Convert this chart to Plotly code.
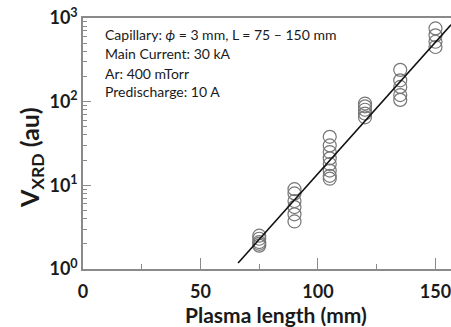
import plotly.graph_objects as go

# Measured XRD signal vs. capillary plasma length
length_mm = [75] * 5 + [90] * 6 + [105] * 8 + [120] * 5 + [135] * 5 + [150] * 4
v_xrd = [1.9, 2.0, 2.1, 2.3, 2.5,
         3.7, 4.5, 5.5, 6.5, 8.0, 9.0,
         12, 13, 15, 18, 21, 25, 30, 38,
         65, 72, 80, 88, 95,
         105, 120, 150, 180, 240,
         450, 520, 620, 750]

# Exponential fit line endpoints
fit_x = [66, 156.6]
fit_y = [1.18, 830]

x_ticks = [0, 50, 100, 150]
y_ticks = [1, 10, 100, 1000]
y_tick_text = ["10<sup>0</sup>", "10<sup>1</sup>", "10<sup>2</sup>", "10<sup>3</sup>"]

info_lines = [
    "Capillary: <i>ϕ</i> = 3 mm, L = 75 – 150 mm",
    "Main Current: 30 kA",
    "Ar: 400 mTorr",
    "Predischarge: 10 A",
]

FONT = "Lato, Carlito, sans-serif"
AXIS = "#8a8a8a"

fig = go.Figure()
fig.add_trace(go.Scatter(
    x=length_mm, y=v_xrd, mode="markers",
    marker=dict(symbol="circle-open", size=13, color="#777777", line=dict(width=1.2)),
    showlegend=False, cliponaxis=False,
))
fig.add_trace(go.Scatter(
    x=fit_x, y=fit_y, mode="lines",
    line=dict(color="#111111", width=1.6), showlegend=False,
))

fig.update_xaxes(
    range=[0, 156.6], tickvals=x_ticks, ticks="inside", ticklen=11, tickwidth=1.3,
    tickcolor=AXIS, showline=True, linecolor=AXIS, linewidth=1.5, mirror=True,
    showgrid=False, zeroline=False, ticklabelstandoff=6, ticklabeloverflow="allow",
    tickfont=dict(family=FONT, size=18, color="#1a1a1a", weight="bold"),
    minor=dict(tickvals=[25, 75, 125], ticks="inside", ticklen=5, tickcolor=AXIS, tickwidth=1.3),
)
fig.update_yaxes(
    type="log", range=[0, 3], tickvals=y_ticks, ticktext=y_tick_text,
    ticks="inside", ticklen=8, tickwidth=1.3, tickcolor=AXIS,
    showline=True, linecolor=AXIS, linewidth=1.5, showgrid=False, zeroline=False,
    tickfont=dict(family=FONT, size=18, color="#1a1a1a", weight="bold"),
    minor=dict(dtick="D1", ticks="inside", ticklen=4, tickcolor=AXIS, tickwidth=1.2, showgrid=False),
)

W, H = 451, 327
L, R, T, B = 83, 0, 18, 58
pw, ph = W - L - R, H - T - B


def px_to_paper(px, py):
    return (px - L) / pw, 1 - (py - T) / ph


annotations = []
for i, line in enumerate(info_lines):
    ax, ay = px_to_paper(103, 35 + 19 * i)
    annotations.append(dict(
        x=ax, y=ay, xref="paper", yref="paper", text=line,
        showarrow=False, xanchor="left", yanchor="middle",
        font=dict(family=FONT, size=14, color="#1a1a1a"),
    ))

ax, ay = px_to_paper(276, 314)
annotations.append(dict(
    x=ax, y=ay, xref="paper", yref="paper",
    text="<b>Plasma length (mm)</b>", showarrow=False, xanchor="center", yanchor="middle",
    font=dict(family=FONT, size=21, color="#1a1a1a"),
))
ax, ay = px_to_paper(31, 158)
annotations.append(dict(
    x=ax, y=ay, xref="paper", yref="paper",
    text="<b>V<sub>XRD</sub> (au)</b>", showarrow=False, xanchor="center", yanchor="middle",
    textangle=-90, font=dict(family=FONT, size=25, color="#1a1a1a"),
))

fig.update_layout(
    width=W, height=H, margin=dict(l=L, r=R, t=T, b=B),
    paper_bgcolor="white", plot_bgcolor="white",
    annotations=annotations,
)

fig.write_html("out.html")
